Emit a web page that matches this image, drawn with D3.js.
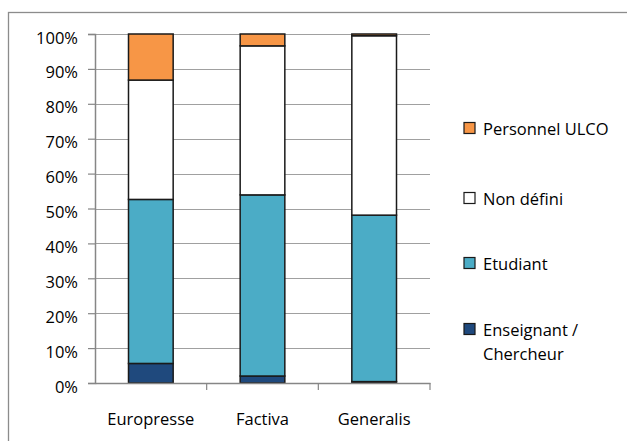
<!DOCTYPE html>
<html>
<head>
<meta charset="utf-8">
<script src="https://cdn.jsdelivr.net/npm/d3@7"></script>
<style>
  body { margin: 0; background: #fff; }
  text { font-family: "Open Sans", Lato, sans-serif; fill: #000; }
</style>
</head>
<body>
<svg id="chart" width="627" height="441"></svg>
<script>
// data
const categories = ["Europresse", "Factiva", "Generalis"];
const seriesNames = ["Enseignant / Chercheur", "Etudiant", "Non défini", "Personnel ULCO"];
const enseignant = [5.6, 2.0, 0.4];
const etudiant = [47.0, 51.9, 47.7];
const nonDefini = [34.2, 42.7, 51.4];
const personnel = [13.2, 3.4, 0.5];
const yTicks = [0, 10, 20, 30, 40, 50, 60, 70, 80, 90, 100];
const colors = ["#1F497D", "#4BACC6", "#FFFFFF", "#F79646"];

const svg = d3.select("#chart");
const margin = { left: 95, right: 197, top: 34, bottom: 58 };
const W = 627, H = 441;
const fontSize = "16.5px";

// outer frame
svg.append("rect")
  .attr("x", 8.5).attr("y", 12.5)
  .attr("width", 640).attr("height", 440)
  .attr("fill", "none").attr("stroke", "#8c8c8c").attr("stroke-width", 1.3);

const x = d3.scaleBand()
  .domain(categories)
  .range([margin.left, W - margin.right]);
const y = d3.scaleLinear()
  .domain([0, 100])
  .range([H - margin.bottom, margin.top]);

// gridlines
svg.append("g")
  .selectAll("line")
  .data(yTicks.slice(1))
  .enter()
  .append("line")
  .attr("x1", margin.left).attr("x2", W - margin.right)
  .attr("y1", (d) => Math.round(y(d)) + 0.5)
  .attr("y2", (d) => Math.round(y(d)) + 0.5)
  .attr("stroke", "#a0a0a0").attr("stroke-width", 1.2);

// stacked data
const rows = categories.map((c, i) => ({
  cat: c,
  "Enseignant / Chercheur": enseignant[i],
  "Etudiant": etudiant[i],
  "Non défini": nonDefini[i],
  "Personnel ULCO": personnel[i],
}));
const stacked = d3.stack().keys(seriesNames)(rows);

const barW = x.bandwidth() * 0.4;
stacked.forEach((layer, k) => {
  svg.append("g")
    .selectAll("rect")
    .data(layer)
    .enter()
    .append("rect")
    .attr("x", (d) => x(d.data.cat) + (x.bandwidth() - barW) / 2)
    .attr("width", barW)
    .attr("y", (d) => y(d[1]))
    .attr("height", (d) => y(d[0]) - y(d[1]))
    .attr("fill", colors[k])
    .attr("stroke", "#1a1a1a")
    .attr("stroke-width", 1.5);
});

// y axis
const yAxis = d3.axisLeft(y)
  .tickValues(yTicks)
  .tickFormat((d) => d + "%")
  .tickSize(7)
  .tickPadding(10);
const gy = svg.append("g")
  .attr("transform", `translate(${margin.left},0)`)
  .call(yAxis);
gy.select(".domain").attr("stroke", "#868686").attr("stroke-width", 1.5);
gy.selectAll(".tick line").attr("stroke", "#868686").attr("stroke-width", 1.2);
gy.selectAll(".tick text")
  .style("font-size", fontSize)
  .attr("dy", "0.55em")
  .attr("fill", "#000");

// x axis
const xAxis = d3.axisBottom(x).tickSize(0).tickPadding(30);
const gx = svg.append("g")
  .attr("transform", `translate(0,${H - margin.bottom})`)
  .call(xAxis);
gx.select(".domain").attr("stroke", "#868686").attr("stroke-width", 1.5);
gx.selectAll(".tick text").style("font-size", fontSize).attr("fill", "#000");
// category separators
gx.selectAll(".sep")
  .data(categories)
  .enter()
  .append("line")
  .attr("x1", (d) => x(d) + x.bandwidth())
  .attr("x2", (d) => x(d) + x.bandwidth())
  .attr("y1", 0).attr("y2", 7)
  .attr("stroke", "#868686").attr("stroke-width", 1.2);

// legend
const legendItems = [
  { name: "Personnel ULCO", lines: ["Personnel ULCO"], color: colors[3], y: 128 },
  { name: "Non défini", lines: ["Non défini"], color: colors[2], y: 198 },
  { name: "Etudiant", lines: ["Etudiant"], color: colors[1], y: 263 },
  { name: "Enseignant / Chercheur", lines: ["Enseignant /", "Chercheur"], color: colors[0], y: 329 },
];
const lg = svg.append("g");
legendItems.forEach((it) => {
  lg.append("rect")
    .attr("x", 464).attr("y", it.y - 5.5)
    .attr("width", 11).attr("height", 11)
    .attr("fill", it.color)
    .attr("stroke", "#1a1a1a").attr("stroke-width", 1.2);
  const t = lg.append("text")
    .attr("x", 483).attr("y", it.y + 6.5)
    .style("font-size", fontSize);
  it.lines.forEach((l, i) => {
    t.append("tspan").attr("x", 483).attr("dy", i === 0 ? 0 : 24).text(l);
  });
});
</script>
</body>
</html>
